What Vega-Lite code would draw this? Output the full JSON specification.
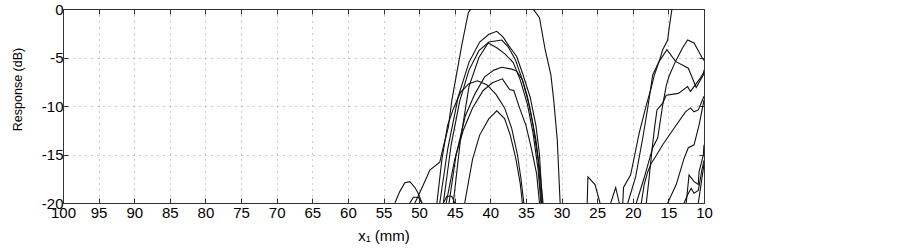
{
  "$schema": "https://vega.github.io/schema/vega-lite/v6.json",
  "width": 641,
  "height": 194,
  "autosize": {"type": "none"},
  "padding": {"left": 63, "top": 9, "right": 199, "bottom": 49},
  "background": "white",
  "config": {
    "font": "Liberation Sans",
    "view": {"stroke": "#333", "strokeWidth": 1},
    "axis": {
      "labelFont": "Liberation Sans",
      "titleFont": "Liberation Sans",
      "labelFontSize": 15,
      "titleFontSize": 15,
      "titleFontWeight": "normal",
      "labelColor": "#000",
      "titleColor": "#000",
      "domainColor": "#333",
      "tickColor": "#333",
      "gridColor": "#999",
      "gridDash": [1, 5],
      "gridOpacity": 1,
      "labelFlush": false,
      "labelOverlap": false
    }
  },
  "data": {
    "values": [
      {"s": "A", "x": 50.6, "y": -20}, {"s": "A", "x": 50.2, "y": -19.4}, {"s": "A", "x": 48.9, "y": -17.3}, {"s": "A", "x": 48.5, "y": -16.6}, {"s": "A", "x": 47.1, "y": -15.8}, {"s": "A", "x": 46.6, "y": -14.2}, {"s": "A", "x": 45.9, "y": -12.2}, {"s": "A", "x": 45.4, "y": -9.4}, {"s": "A", "x": 44.0, "y": -3.7}, {"s": "A", "x": 43.1, "y": -0.4}, {"s": "A", "x": 42.3, "y": 0.5}, {"s": "A", "x": 38.0, "y": 2.5}, {"s": "A", "x": 33.9, "y": -0.1}, {"s": "A", "x": 33.1, "y": -0.9}, {"s": "A", "x": 32.3, "y": -4.2}, {"s": "A", "x": 31.5, "y": -6.8}, {"s": "A", "x": 31.1, "y": -9.4}, {"s": "A", "x": 30.6, "y": -13.5}, {"s": "A", "x": 30.2, "y": -20},
      {"s": "B", "x": 53.4, "y": -20}, {"s": "B", "x": 52.7, "y": -18.8}, {"s": "B", "x": 52.0, "y": -17.9}, {"s": "B", "x": 51.3, "y": -17.8}, {"s": "B", "x": 50.6, "y": -18.4}, {"s": "B", "x": 50.2, "y": -18.9}, {"s": "B", "x": 49.6, "y": -20},
      {"s": "C", "x": 51.3, "y": -20}, {"s": "C", "x": 50.8, "y": -19.4}, {"s": "C", "x": 50.1, "y": -19.4}, {"s": "C", "x": 49.6, "y": -20},
      {"s": "C2", "x": 46.6, "y": -20}, {"s": "C2", "x": 46.1, "y": -19.3}, {"s": "C2", "x": 45.4, "y": -19.3}, {"s": "C2", "x": 45.0, "y": -20},
      {"s": "D", "x": 47.1, "y": -20}, {"s": "D", "x": 46.0, "y": -14.5}, {"s": "D", "x": 44.5, "y": -9}, {"s": "D", "x": 43.0, "y": -5.5}, {"s": "D", "x": 41.5, "y": -3.4}, {"s": "D", "x": 40.2, "y": -2.6}, {"s": "D", "x": 39.1, "y": -2.3}, {"s": "D", "x": 38.2, "y": -2.9}, {"s": "D", "x": 37.4, "y": -3.8}, {"s": "D", "x": 36.3, "y": -4.9}, {"s": "D", "x": 35.4, "y": -6.8}, {"s": "D", "x": 34.4, "y": -9.1}, {"s": "D", "x": 33.6, "y": -12}, {"s": "D", "x": 33.1, "y": -15}, {"s": "D", "x": 32.7, "y": -20},
      {"s": "E", "x": 46.6, "y": -20}, {"s": "E", "x": 45.5, "y": -14}, {"s": "E", "x": 44.3, "y": -9.5}, {"s": "E", "x": 43.0, "y": -6.3}, {"s": "E", "x": 41.6, "y": -4.3}, {"s": "E", "x": 40.2, "y": -3.4}, {"s": "E", "x": 39.3, "y": -3.3}, {"s": "E", "x": 38.4, "y": -3.2}, {"s": "E", "x": 37.5, "y": -3.9}, {"s": "E", "x": 36.5, "y": -5.2}, {"s": "E", "x": 35.5, "y": -7.3}, {"s": "E", "x": 34.5, "y": -10}, {"s": "E", "x": 33.6, "y": -13.5}, {"s": "E", "x": 33.0, "y": -17}, {"s": "E", "x": 32.6, "y": -20},
      {"s": "F", "x": 45.2, "y": -20}, {"s": "F", "x": 44.2, "y": -13.5}, {"s": "F", "x": 43.0, "y": -8}, {"s": "F", "x": 41.6, "y": -5}, {"s": "F", "x": 40.3, "y": -3.5}, {"s": "F", "x": 39.1, "y": -4.0}, {"s": "F", "x": 38.0, "y": -4.6}, {"s": "F", "x": 36.8, "y": -5.5}, {"s": "F", "x": 35.8, "y": -7.3}, {"s": "F", "x": 34.8, "y": -9.8}, {"s": "F", "x": 34.0, "y": -12.8}, {"s": "F", "x": 33.3, "y": -16.5}, {"s": "F", "x": 32.9, "y": -20},
      {"s": "G", "x": 45.8, "y": -20}, {"s": "G", "x": 44.8, "y": -15}, {"s": "G", "x": 43.5, "y": -11}, {"s": "G", "x": 42.2, "y": -8.8}, {"s": "G", "x": 40.8, "y": -7}, {"s": "G", "x": 39.5, "y": -6.3}, {"s": "G", "x": 38.4, "y": -6.0}, {"s": "G", "x": 37.0, "y": -6.2}, {"s": "G", "x": 36.3, "y": -6.4}, {"s": "G", "x": 35.5, "y": -7.3}, {"s": "G", "x": 34.8, "y": -9}, {"s": "G", "x": 34.0, "y": -12}, {"s": "G", "x": 33.3, "y": -15.5}, {"s": "G", "x": 32.8, "y": -20},
      {"s": "H", "x": 46.2, "y": -20}, {"s": "H", "x": 45.0, "y": -15.5}, {"s": "H", "x": 43.8, "y": -12.5}, {"s": "H", "x": 42.5, "y": -10.2}, {"s": "H", "x": 41.0, "y": -8.4}, {"s": "H", "x": 39.7, "y": -7.6}, {"s": "H", "x": 38.3, "y": -7.2}, {"s": "H", "x": 37.3, "y": -8.3}, {"s": "H", "x": 36.7, "y": -8.4}, {"s": "H", "x": 35.9, "y": -10.2}, {"s": "H", "x": 35.0, "y": -12}, {"s": "H", "x": 34.2, "y": -14.5}, {"s": "H", "x": 33.5, "y": -17}, {"s": "H", "x": 33.1, "y": -20},
      {"s": "I", "x": 47.5, "y": -20}, {"s": "I", "x": 46.8, "y": -15.5}, {"s": "I", "x": 46.0, "y": -12}, {"s": "I", "x": 45.2, "y": -10.3}, {"s": "I", "x": 44.2, "y": -8.6}, {"s": "I", "x": 43.0, "y": -7.7}, {"s": "I", "x": 41.8, "y": -7.4}, {"s": "I", "x": 40.5, "y": -7.8}, {"s": "I", "x": 39.2, "y": -8.8}, {"s": "I", "x": 38.0, "y": -10.2}, {"s": "I", "x": 37.0, "y": -12.3}, {"s": "I", "x": 36.2, "y": -15}, {"s": "I", "x": 35.7, "y": -17.5}, {"s": "I", "x": 35.3, "y": -20},
      {"s": "J", "x": 43.6, "y": -20}, {"s": "J", "x": 42.5, "y": -15.5}, {"s": "J", "x": 41.5, "y": -13}, {"s": "J", "x": 40.2, "y": -11.3}, {"s": "J", "x": 39.1, "y": -10.5}, {"s": "J", "x": 38.0, "y": -11.3}, {"s": "J", "x": 37.2, "y": -13}, {"s": "J", "x": 36.4, "y": -15.5}, {"s": "J", "x": 35.8, "y": -18}, {"s": "J", "x": 35.5, "y": -20},
      {"s": "K", "x": 26.4, "y": -20}, {"s": "K", "x": 26.3, "y": -17.3}, {"s": "K", "x": 25.3, "y": -18.1}, {"s": "K", "x": 24.6, "y": -20},
      {"s": "K2", "x": 23.1, "y": -20}, {"s": "K2", "x": 22.4, "y": -18.4}, {"s": "K2", "x": 21.9, "y": -20},
      {"s": "R1", "x": 21.4, "y": -20}, {"s": "R1", "x": 21.3, "y": -18.4}, {"s": "R1", "x": 20.3, "y": -17.1}, {"s": "R1", "x": 19.1, "y": -12.8}, {"s": "R1", "x": 18.1, "y": -9.9}, {"s": "R1", "x": 17.4, "y": -8.1}, {"s": "R1", "x": 17.0, "y": -6.9}, {"s": "R1", "x": 16.3, "y": -5.4}, {"s": "R1", "x": 15.8, "y": -4.2}, {"s": "R1", "x": 15.1, "y": -3.2}, {"s": "R1", "x": 14.9, "y": -2.0}, {"s": "R1", "x": 14.5, "y": 0}, {"s": "R1", "x": 14.0, "y": 2},
      {"s": "R2", "x": 18.8, "y": -20}, {"s": "R2", "x": 18.4, "y": -18.1}, {"s": "R2", "x": 17.9, "y": -16.8}, {"s": "R2", "x": 17.4, "y": -15.9}, {"s": "R2", "x": 16.7, "y": -15.1}, {"s": "R2", "x": 15.8, "y": -14.0}, {"s": "R2", "x": 14.4, "y": -12.5}, {"s": "R2", "x": 12.6, "y": -10.6}, {"s": "R2", "x": 11.9, "y": -10.2}, {"s": "R2", "x": 11.4, "y": -10.6}, {"s": "R2", "x": 10.8, "y": -10.4}, {"s": "R2", "x": 10.0, "y": -9.0},
      {"s": "R3", "x": 18.1, "y": -20}, {"s": "R3", "x": 17.7, "y": -17.4}, {"s": "R3", "x": 17.3, "y": -14.5}, {"s": "R3", "x": 16.9, "y": -12.0}, {"s": "R3", "x": 16.6, "y": -10.4}, {"s": "R3", "x": 15.8, "y": -9.7}, {"s": "R3", "x": 15.3, "y": -8.9}, {"s": "R3", "x": 13.6, "y": -8.7}, {"s": "R3", "x": 12.3, "y": -8.0}, {"s": "R3", "x": 11.9, "y": -8.5}, {"s": "R3", "x": 10.5, "y": -7.1}, {"s": "R3", "x": 10.0, "y": -6.5},
      {"s": "R4", "x": 20.7, "y": -20}, {"s": "R4", "x": 19.6, "y": -17.3}, {"s": "R4", "x": 18.6, "y": -13.3}, {"s": "R4", "x": 17.9, "y": -10.2}, {"s": "R4", "x": 17.2, "y": -6.8}, {"s": "R4", "x": 16.3, "y": -5.4}, {"s": "R4", "x": 15.2, "y": -4.2}, {"s": "R4", "x": 14.0, "y": -5.4}, {"s": "R4", "x": 12.2, "y": -6.1}, {"s": "R4", "x": 11.1, "y": -8.1}, {"s": "R4", "x": 10.1, "y": -6.8}, {"s": "R4", "x": 10.0, "y": -6.3},
      {"s": "R5", "x": 19.5, "y": -20}, {"s": "R5", "x": 18.4, "y": -17.4}, {"s": "R5", "x": 17.2, "y": -14.3}, {"s": "R5", "x": 16.5, "y": -13.3}, {"s": "R5", "x": 15.8, "y": -9.9}, {"s": "R5", "x": 15.3, "y": -7.9}, {"s": "R5", "x": 14.9, "y": -6.9}, {"s": "R5", "x": 14.0, "y": -5.4}, {"s": "R5", "x": 13.0, "y": -4.0}, {"s": "R5", "x": 12.3, "y": -3.2}, {"s": "R5", "x": 11.4, "y": -3.5}, {"s": "R5", "x": 10.2, "y": -5.1}, {"s": "R5", "x": 10.0, "y": -5.3},
      {"s": "R6", "x": 15.1, "y": -20}, {"s": "R6", "x": 13.9, "y": -18.1}, {"s": "R6", "x": 12.8, "y": -15.4}, {"s": "R6", "x": 12.2, "y": -14.3}, {"s": "R6", "x": 11.4, "y": -14.0}, {"s": "R6", "x": 10.7, "y": -12.0}, {"s": "R6", "x": 10.4, "y": -10.9}, {"s": "R6", "x": 10.0, "y": -9.4},
      {"s": "R7", "x": 12.5, "y": -20}, {"s": "R7", "x": 12.1, "y": -17.1}, {"s": "R7", "x": 11.4, "y": -17.8}, {"s": "R7", "x": 10.8, "y": -18.1}, {"s": "R7", "x": 10.7, "y": -16.8}, {"s": "R7", "x": 10.1, "y": -15.1}, {"s": "R7", "x": 10.0, "y": -14.0},
      {"s": "R8", "x": 12.8, "y": -20}, {"s": "R8", "x": 12.2, "y": -19.0}, {"s": "R8", "x": 11.8, "y": -18.5}, {"s": "R8", "x": 11.4, "y": -19.0}, {"s": "R8", "x": 10.8, "y": -18.7}, {"s": "R8", "x": 10.3, "y": -16.6}, {"s": "R8", "x": 10.0, "y": -15.6},
      {"s": "R9", "x": 10.8, "y": -20}, {"s": "R9", "x": 10.0, "y": -16.0}
    ]
  },
  "layer": [
    {
      "mark": {"type": "line", "clip": true, "color": "#111", "strokeWidth": 1.1},
      "encoding": {
        "x": {
          "field": "x", "type": "quantitative",
          "scale": {"domain": [10, 100], "reverse": true, "nice": false, "zero": false},
          "axis": {
            "orient": "bottom",
            "values": [10, 15, 20, 25, 30, 35, 40, 45, 50, 55, 60, 65, 70, 75, 80, 85, 90, 95, 100],
            "grid": true, "tickSize": -5, "labelPadding": 7,
            "title": "x₁ (mm)", "titleY": 37, "titleBaseline": "alphabetic"
          }
        },
        "y": {
          "field": "y", "type": "quantitative",
          "scale": {"domain": [-20, 0], "nice": false, "zero": false},
          "axis": {
            "orient": "left",
            "values": [-20, -15, -10, -5, 0],
            "grid": true, "tickSize": -5, "labelPadding": 5,
            "labelExpr": "replace(datum.label, '−', '-')",
            "title": "Response (dB)", "titleFontSize": 12.5, "titleX": -42, "titleY": 80, "titleBaseline": "alphabetic", "titleAngle": -90
          }
        },
        "detail": {"field": "s"}
      }
    },
    {
      "mark": {"type": "line", "clip": true, "strokeOpacity": 0},
      "encoding": {
        "x": {
          "field": "x", "type": "quantitative",
          "axis": {
            "orient": "top",
            "values": [15, 20, 25, 30, 35, 40, 45, 50, 55, 60, 65, 70, 75, 80, 85, 90, 95],
            "grid": false, "labels": false, "tickSize": -5, "title": null
          }
        },
        "y": {
          "field": "y", "type": "quantitative",
          "axis": {
            "orient": "right",
            "values": [-15, -10, -5],
            "grid": false, "labels": false, "tickSize": -5, "title": null
          }
        },
        "detail": {"field": "s"}
      }
    }
  ],
  "resolve": {"axis": {"x": "independent", "y": "independent"}}
}
